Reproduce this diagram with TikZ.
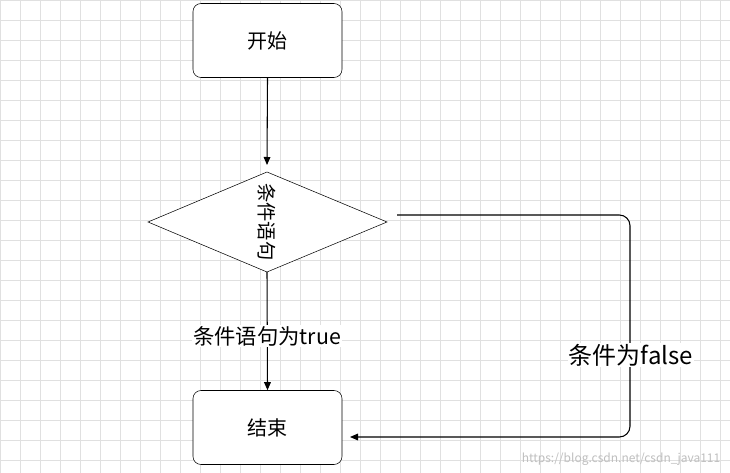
\documentclass[tikz,border=0pt]{standalone}
\usepackage{fontspec}
\setmainfont{Noto Sans CJK SC}
\usetikzlibrary{shapes.geometric,arrows.meta}
\begin{document}
\begin{tikzpicture}[x=0.75pt,y=-0.75pt,
  box/.style={draw,rounded corners=6pt,minimum width=111.75pt,minimum height=55.5pt,font=\fontsize{15pt}{17pt}\selectfont,fill=white},
  arr/.style={-{Triangle[length=6pt,width=5pt]},thick},
  lbl/.style={fill=white,inner sep=1pt}]
\useasboundingbox (0,0) rectangle (730,473);
\fill[white] (0,0) rectangle (730,473);
\draw[black!12,step=15pt] (0,0) grid (730,473);
\node[box] (start) at (267.5,40.5) {开始};
\node[box] (end) at (267.5,427.5) {结束};
\draw[fill=white] (148,222) -- (267,172) -- (387,222) -- (267,272) -- cycle;
\node[rotate=-90,font=\fontsize{14.5pt}{16pt}\selectfont] (dt) at (267,222) {条件语句};
\coordinate (dtop) at (267,172);
\coordinate (dbot) at (267,272);
\coordinate (dright) at (397,215);
\coordinate (c1) at (630,215);
\coordinate (c2) at (630,437);
\coordinate (eend) at (350,437);
\draw[arr] (start.south) -- ([yshift=5.25pt]dtop);
\draw[arr] (dbot) -- (end.north);
\node[lbl,font=\fontsize{16pt}{18pt}\selectfont] (t) at (267,336) {条件语句为true};
\draw[arr,rounded corners=8pt] (dright) -- (c1) -- (c2) -- (eend);
\node[lbl,font=\fontsize{18pt}{20pt}\selectfont] (f) at (631,355) {条件为false};
\node[text=black!25,font=\fontsize{9pt}{10pt}\selectfont,anchor=south east] (w) at (725,470) {https://blog.csdn.net/csdn\_java111};
\end{tikzpicture}
\end{document}
